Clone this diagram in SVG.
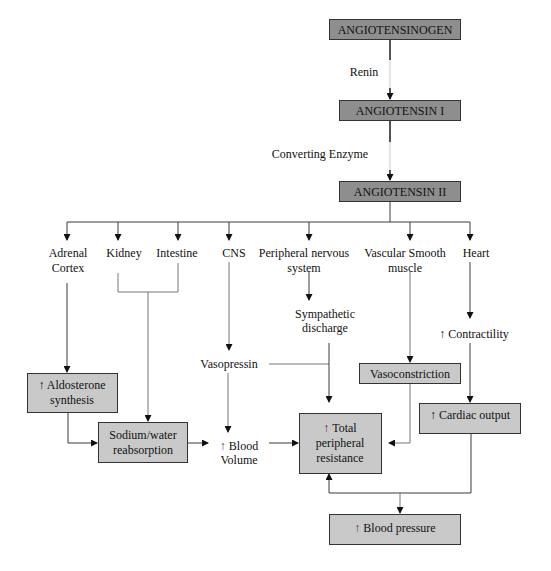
<svg xmlns="http://www.w3.org/2000/svg" width="551" height="571" viewBox="0 0 551 571">
<style>
text{font-family:"Liberation Serif","Times New Roman",serif;font-size:12px;fill:#111;text-anchor:middle}
.dark{fill:#8e8e8e;stroke:#333;stroke-width:1}
.light{fill:#c9c9c9;stroke:#333;stroke-width:1}
.c{fill:none;stroke:#3a3a3a;stroke-width:1}
.g{fill:none;stroke:#777;stroke-width:1}
.t{fill:none;stroke:#555;stroke-width:2}
.f{fill:none;stroke:#ddd;stroke-width:1.5}
.a{marker-end:url(#ah)}
.up{fill:#6a2a8a}
.up2{fill:#7a1a3a}
</style>
<defs>
<marker id="ah" markerWidth="7" markerHeight="7" refX="6" refY="3.5" orient="auto" markerUnits="userSpaceOnUse">
<path d="M0,0 L7,3.5 L0,7 z" fill="#111"/>
</marker>
</defs>
<rect width="551" height="571" fill="#fff"/>

<g id="connectors">
<path class="t" d="M390,39 V60"/>
<path class="f" d="M390,60 V88"/>
<path class="t a" d="M390,88 V99"/>
<path class="t" d="M390,120 V142"/>
<path class="f" d="M390,142 V170"/>
<path class="t a" d="M390,170 V180"/>
<path class="c" d="M390,202 V222"/>
<path class="c" d="M67,222 H470"/>
<path class="c a" d="M67,222 V240"/>
<path class="c a" d="M118,222 V240"/>
<path class="c a" d="M178,222 V240"/>
<path class="c a" d="M229,222 V240"/>
<path class="c a" d="M309,222 V240"/>
<path class="c a" d="M410,222 V240"/>
<path class="c a" d="M470,222 V240"/>
<path class="c a" d="M67,283 V372"/>
<path class="g" d="M118,273 V292 H178 V263"/>
<path class="g a" d="M148,292 V421"/>
<path class="g a" d="M229,262 V350"/>
<path class="c a" d="M309,272 V300"/>
<path class="g a" d="M410,272 V362"/>
<path class="c a" d="M470,262 V318"/>
<path class="c a" d="M470,343 V402"/>
<path class="c a" d="M68,413 V443 H97"/>
<path class="c a" d="M188,443 H208"/>
<path class="g a" d="M228,373 V432"/>
<path class="g" d="M269,364 H329"/>
<path class="c a" d="M329,343 V402"/>
<path class="c a" d="M269,443 H298"/>
<path class="g a" d="M410,383 V443 H389"/>
<path class="c" d="M471,433 V493 H329"/>
<path class="c a" d="M329,493 V474"/>
<path class="g a" d="M400,493 V513"/>
</g>

<g id="angiotensinogen"><rect class="dark" x="329.5" y="19.5" width="131" height="20"/><text x="395" y="34">ANGIOTENSINOGEN</text></g>
<g id="renin"><text x="364" y="76">Renin</text></g>
<g id="angiotensin1"><rect class="dark" x="339.5" y="100.5" width="121" height="20"/><text x="400" y="115">ANGIOTENSIN I</text></g>
<g id="converting"><text x="320" y="158">Converting Enzyme</text></g>
<g id="angiotensin2"><rect class="dark" x="339.5" y="181.5" width="121" height="20"/><text x="400" y="196">ANGIOTENSIN II</text></g>

<g id="adrenal"><text x="68" y="257">Adrenal</text><text x="68" y="272">Cortex</text></g>
<g id="kidney"><text x="124" y="257">Kidney</text></g>
<g id="intestine"><text x="177" y="257">Intestine</text></g>
<g id="cns"><text x="234" y="257">CNS</text></g>
<g id="pns"><text x="304" y="257">Peripheral nervous</text><text x="304" y="272">system</text></g>
<g id="vsm"><text x="405" y="257">Vascular Smooth</text><text x="405" y="272">muscle</text></g>
<g id="heart"><text x="476" y="257">Heart</text></g>

<g id="sympathetic"><text x="325" y="318">Sympathetic</text><text x="325" y="332">discharge</text></g>
<g id="contractility"><text x="474" y="338">↑ Contractility</text></g>
<g id="vasopressin"><text x="229" y="368">Vasopressin</text></g>

<g id="aldosterone"><rect class="light" x="27.5" y="373.5" width="90" height="39"/><text x="72" y="389">↑ Aldosterone</text><text x="72" y="404">synthesis</text></g>
<g id="sodium"><rect class="light" x="98.5" y="422.5" width="89" height="40"/><text x="143" y="439">Sodium/water</text><text x="143" y="454">reabsorption</text></g>
<g id="bloodvolume"><text x="239" y="450"><tspan class="up">↑</tspan> Blood</text><text x="239" y="464">Volume</text></g>
<g id="vasoconstriction"><rect class="light" x="359.5" y="363.5" width="101" height="20"/><text x="410" y="378">Vasoconstriction</text></g>
<g id="cardiac"><rect class="light" x="419.5" y="403.5" width="101" height="30"/><text x="470" y="419">↑ Cardiac output</text></g>
<g id="tpr"><rect class="light" x="299.5" y="413.5" width="82" height="60"/><text x="340" y="432"><tspan class="up2">↑</tspan> Total</text><text x="340" y="447">peripheral</text><text x="340" y="462">resistance</text></g>
<g id="bp"><rect class="light" x="329.5" y="514.5" width="131" height="30"/><text x="395" y="532"><tspan class="up">↑</tspan> Blood pressure</text></g>
</svg>
